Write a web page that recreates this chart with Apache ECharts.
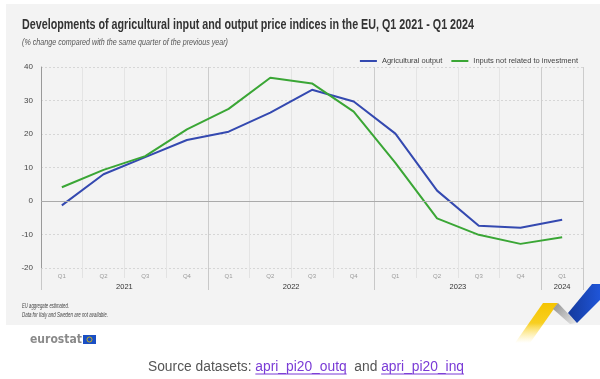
<!DOCTYPE html>
<html>
<head>
<meta charset="utf-8">
<script src="https://cdn.jsdelivr.net/npm/echarts@6/dist/echarts.min.js"></script>
<style>
html,body{margin:0;padding:0;background:#fff;}
#c{width:600px;height:379px;}
</style>
</head>
<body>
<div id="c"></div>
<script>
const quarters = ['Q1','Q2','Q3','Q4','Q1','Q2','Q3','Q4','Q1','Q2','Q3','Q4','Q1'];
const years = ['2021','2022','2023','2024'];
const yearCenters = [2, 6, 10, 12.5];
const agriculturalOutput = [-1.3, 8.0, 13.1, 18.2, 20.7, 26.4, 33.2, 29.7, 20.1, 3.1, -7.4, -8.0, -5.6];
const inputsNotInvestment = [4.1, 9.3, 13.4, 21.4, 27.5, 36.8, 35.1, 26.7, 11.4, -5.2, -10.1, -12.8, -10.8];
const seriesNames = ['Agricultural output', 'Inputs not related to investment'];

const titleText = 'Developments of agricultural input and output price indices in the EU, Q1 2021 - Q1 2024';
const subtitleText = '(% change compared with the same quarter of the previous year)';
const note1 = 'EU aggregate estimated.';
const note2 = 'Data for Italy and Sweden are not available.';

const ctx = document.createElement('canvas').getContext('2d');
function measure(text, font) { ctx.font = font; return ctx.measureText(text).width; }
function fit(text, font, width) { return width / measure(text, font); }

const LABEL_FONT = '"Liberation Sans", Arial, sans-serif';
const titleFont = 'bold 14px "Liberation Sans"';
const subFont = 'italic 9px "Liberation Sans"';
const noteFont = 'italic 6.5px "Liberation Sans"';
const srcFont = '13.8px "Liberation Sans"';
const srcCenter = 306;

const chart = echarts.init(document.getElementById('c'), null, {renderer: 'canvas'});

const baseGraphic = [
  {type: 'rect', z: -100, shape: {x: 6, y: 4, width: 594, height: 321}, style: {fill: '#f3f3f3'}},
  {type: 'text', x: 22, y: 25, scaleX: fit(titleText, titleFont, 452),
   style: {text: titleText, font: titleFont, fill: '#333', verticalAlign: 'middle'}},
  {type: 'text', x: 22, y: 42, scaleX: fit(subtitleText, subFont, 206),
   style: {text: subtitleText, font: subFont, fill: '#555', verticalAlign: 'middle'}},
  {type: 'text', x: 22, y: 306, scaleX: fit(note1, noteFont, 47),
   style: {text: note1, font: noteFont, fill: '#444', verticalAlign: 'middle'}},
  {type: 'text', x: 22, y: 315, scaleX: fit(note2, noteFont, 86),
   style: {text: note2, font: noteFont, fill: '#444', verticalAlign: 'middle'}},
  // eurostat logo
  {type: 'text', x: 30, y: 340, scaleX: fit('eurostat', 'bold 12.5px "DejaVu Sans"', 52),
   style: {text: 'eurostat', font: 'bold 12.5px "DejaVu Sans"', fill: '#8a8a8a', verticalAlign: 'middle'}},
  {type: 'rect', shape: {x: 83, y: 335, width: 13, height: 9}, style: {fill: '#1a4fc4'}},
  {type: 'circle', shape: {cx: 89.5, cy: 339.5, r: 2.5}, style: {fill: 'none', stroke: '#e8c300', lineWidth: 0.8}},
  // decoration
  {type: 'polygon', shape: {points: [[543, 303], [558, 303], [530, 343], [515, 343]]},
   style: {fill: {type: 'linear', x: 0, y: 0, x2: 0, y2: 1, colorStops: [{offset: 0, color: '#f5c400'}, {offset: 0.5, color: '#f8cf20'}, {offset: 1, color: 'rgba(255,230,120,0)'}]}}},
  {type: 'polygon', shape: {points: [[553, 309], [558, 303], [577, 323], [570, 324]]},
   style: {fill: {type: 'linear', x: 0, y: 0, x2: 1, y2: 1, colorStops: [{offset: 0, color: '#909090'}, {offset: 1, color: '#e8e8e8'}]}}},
  {type: 'polygon', shape: {points: [[568, 313], [592, 284], [600, 284], [600, 300], [577, 323]]},
   style: {fill: {type: 'linear', x: 0, y: 0, x2: 1, y2: 0, colorStops: [{offset: 0, color: '#153a9c'}, {offset: 1, color: '#1f55d8'}]}}},
  // source line
  {type: 'text', x: srcCenter, y: 367, style: {
    text: '{s|Source datasets: }{l|apri_pi20_outq}{s|  and }{l|apri_pi20_inq}',
    align: 'center', verticalAlign: 'middle',
    rich: {
      s: {font: srcFont, fill: '#555'},
      l: {font: srcFont, fill: '#7a3bd6'}
    }
  }}
];

// underlines for links, from text metrics
const srcParts = ['Source datasets: ', 'apri_pi20_outq', '  and ', 'apri_pi20_inq'];
const srcW = srcParts.map(p => measure(p, srcFont));
let sx = srcCenter - srcW.reduce((a, b) => a + b, 0) / 2;
srcParts.forEach((p, i) => {
  if (i === 1 || i === 3) {
    baseGraphic.push({type: 'line', shape: {x1: sx, y1: 374, x2: sx + srcW[i], y2: 374}, style: {stroke: '#7a3bd6', lineWidth: 1}});
  }
  sx += srcW[i];
});

const option = {
  backgroundColor: '#ffffff',
  animation: false,
  grid: {left: 41, right: 17, top: 67, bottom: 111, containLabel: false},
  legend: {
    top: 52, right: 17, itemWidth: 17, itemHeight: 2, itemGap: 9,
    icon: 'rect',
    textStyle: {fontFamily: LABEL_FONT, fontSize: 7.5, color: '#444'},
    data: seriesNames
  },
  xAxis: [
    {
      type: 'category', data: quarters, boundaryGap: true,
      axisLine: {show: false, onZero: false},
      axisTick: {show: true, length: 10, lineStyle: {color: '#e2e2e2'}},
      axisLabel: {fontFamily: LABEL_FONT, fontSize: 6, color: '#9a9a9a', margin: 5},
      splitLine: {show: true, lineStyle: {color: '#e4e4e4', width: 1}}
    },
    {
      type: 'value', min: 0, max: 13, interval: 4, position: 'bottom',
      axisLine: {show: false, onZero: false},
      axisTick: {show: true, length: 22, lineStyle: {color: '#c8c8c8'}},
      axisLabel: {
        customValues: yearCenters,
        fontFamily: LABEL_FONT, fontSize: 7.5, color: '#333', margin: 15,
        formatter: function (v) { const i = yearCenters.indexOf(v); return i >= 0 ? years[i] : ''; }
      },
      splitLine: {show: true, lineStyle: {color: '#cccccc', width: 1}}
    }
  ],
  yAxis: {
    type: 'value', min: -20, max: 40, interval: 10,
    axisLine: {show: true, onZero: false, lineStyle: {color: '#999', width: 1}},
    axisTick: {show: false},
    axisLabel: {fontFamily: LABEL_FONT, fontSize: 8, color: '#444', margin: 8},
    splitLine: {show: true, lineStyle: {color: '#d6d6d6', type: [2, 2], width: 1}}
  },
  series: [
    {
      name: seriesNames[0], type: 'line', data: agriculturalOutput,
      xAxisIndex: 0, symbol: 'none', color: '#3449b0',
      lineStyle: {width: 2, color: '#3449b0'}, z: 3,
      markLine: {
        silent: true, symbol: 'none', label: {show: false},
        lineStyle: {color: '#aaaaaa', type: 'solid', width: 1},
        data: [{yAxis: 0}]
      }
    },
    {
      name: seriesNames[1], type: 'line', data: inputsNotInvestment,
      xAxisIndex: 0, symbol: 'none', color: '#3aa635',
      lineStyle: {width: 2, color: '#3aa635'}, z: 3
    }
  ],
  graphic: baseGraphic
};
chart.setOption(option);
</script>
</body>
</html>
